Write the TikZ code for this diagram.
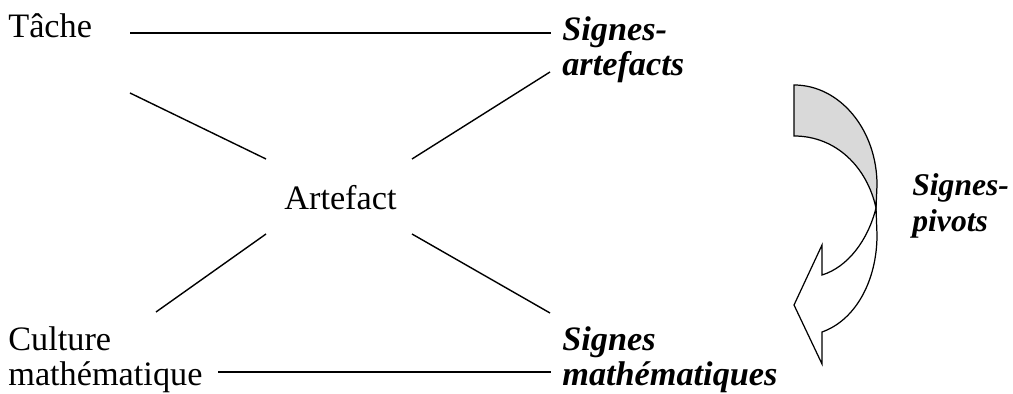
\documentclass[tikz,border=0pt]{standalone}
\usepackage{fontspec}
\setmainfont{Liberation Serif}
\begin{document}
\begin{tikzpicture}[
  x=0.02cm, y=-0.02cm,
  plainlabel/.style={inner sep=0pt, font=\fontsize{19.5}{20}\selectfont, align=left},
  signlabel/.style={plainlabel, font=\fontsize{19.5}{20}\selectfont\bfseries\itshape},
  pivotlabel/.style={plainlabel, font=\fontsize{18}{20.5}\selectfont\bfseries\itshape},
  link/.style={line width=0.8pt, draw=black},
  rulelink/.style={line width=1pt, draw=black},
  band/.style={line width=0.7pt, draw=black, line join=miter}
]
\useasboundingbox (0,0) rectangle (1013,394);

% corner labels
\node[plainlabel, anchor=base west] (tache) at (8,38)  {Tâche};
\node[signlabel, anchor=north west] (artsign) at (562,16) {Signes-\\artefacts};
\node[plainlabel, anchor=base west] (artefact) at (284,210) {Artefact};
\node[plainlabel, anchor=north west] (culture) at (8,326) {Culture\\mathématique};
\node[signlabel, anchor=north west] (mathsign) at (562,326) {Signes\\mathématiques};
\node[pivotlabel, anchor=north west] (pivot) at (912,173) {Signes-\\pivots};

% line ends
\coordinate (tl1) at (130,33);   \coordinate (tl2) at (551,33);
\coordinate (bl1) at (218,372);  \coordinate (bl2) at (551,372);
\coordinate (d1a) at (130,93);   \coordinate (d1b) at (266,159);
\coordinate (d2a) at (412,159);  \coordinate (d2b) at (550,72);
\coordinate (d3a) at (266,234);  \coordinate (d3b) at (156,312);
\coordinate (d4a) at (412,234);  \coordinate (d4b) at (550,313);

\draw[rulelink] (tl1) -- (tl2);
\draw[rulelink] (bl1) -- (bl2);
\foreach \a/\b in {d1a/d1b, d2a/d2b, d3a/d3b, d4a/d4b}
  \draw[link] (\a) -- (\b);

% curved arrow
\coordinate (cross) at (876,208);
\draw[band, fill=gray!30] (794,85) .. controls (840,85) and (877,130) .. (877,185)
  -- (cross) .. controls (867,167) and (836,136) .. (794,136) -- cycle;
\draw[band, fill=white] (cross) .. controls (868,240) and (848,267) .. (822,275)
  -- (822,245) -- (794,305) -- (822,364) -- (822,332)
  .. controls (856,320) and (877,280) .. (877,235) -- cycle;
\end{tikzpicture}
\end{document}
